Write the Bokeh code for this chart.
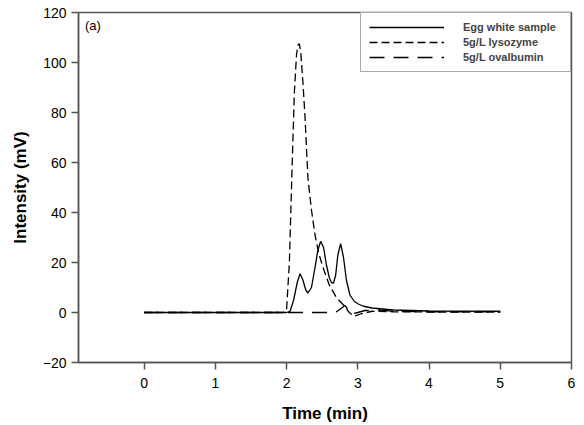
from bokeh.plotting import figure
from bokeh.models import FixedTicker, Legend, LegendItem, Label
from bokeh.embed import file_html
from bokeh.resources import INLINE

# Egg white sample (solid)
egg_t = [0, 1.0, 2.0, 2.05, 2.1, 2.15, 2.19, 2.23, 2.27, 2.3, 2.35, 2.4, 2.44, 2.48, 2.52, 2.56, 2.6, 2.63,
         2.66, 2.69, 2.72, 2.76, 2.8, 2.84, 2.89, 2.95, 3.0, 3.08, 3.2, 3.5, 4.0, 5.0]
egg_v = [0, 0, 0, 0.5, 5, 12, 15.5, 13, 9, 7.8, 10, 18, 25, 28.5, 26, 19, 14, 12,
         11.8, 15, 23, 27.5, 22, 13, 7, 4.5, 3.5, 2.5, 1.8, 1.0, 0.6, 0.5]

# 5g/L lysozyme (short dash)
lys_t = [0, 1.0, 1.95, 2.0, 2.04, 2.08, 2.11, 2.14, 2.16, 2.18, 2.2, 2.23, 2.26, 2.3, 2.35, 2.4, 2.45, 2.5,
         2.55, 2.6, 2.7, 2.8, 2.88, 2.95, 3.05, 3.2, 3.5, 4.0, 5.0]
lys_v = [0, 0, 0, 1, 20, 60, 88, 103, 107, 107.5, 104, 92, 78, 54, 41, 31, 24, 19,
         15, 11, 6, 3, 0, -1.5, -0.5, 0.5, 0.3, 0.2, 0.2]

# 5g/L ovalbumin (long dash)
ova_t = [0, 1, 2, 2.6, 2.7, 2.76, 2.82, 2.87, 2.92, 3.0, 3.1, 3.3, 3.5, 4.0, 4.5, 5.0]
ova_v = [0, 0, 0, 0, 0.3, 1.5, 2.8, 1.0, -0.5, 0, 0.8, 1.0, 0.5, 0.3, 0.3, 0.2]

x_ticks = [0, 1, 2, 3, 4, 5, 6]
y_ticks = [-20, 0, 20, 40, 60, 80, 100, 120]
series_names = ["Egg white sample", "5g/L lysozyme", "5g/L ovalbumin"]

FONT = "Liberation Sans"
AX = "#555555"

p = figure(width=584, height=425, output_backend="svg", toolbar_location=None,
           x_range=(-0.92, 6), y_range=(-20, 120),
           min_border_left=78, min_border_right=13, min_border_top=12, min_border_bottom=60)

r1 = p.line(egg_t, egg_v, line_color="black", line_width=1.3)
r2 = p.line(lys_t, lys_v, line_color="black", line_width=1.3, line_dash="8 4")
r3 = p.line(ova_t, ova_v, line_color="black", line_width=1.3, line_dash="15 9")

p.xgrid.visible = False
p.ygrid.visible = False
p.outline_line_color = AX
p.outline_line_width = 1.5
p.background_fill_color = "white"
p.border_fill_color = "white"

for ax in (p.xaxis[0], p.yaxis[0]):
    ax.axis_line_color = AX
    ax.axis_line_width = 1.5
    ax.major_tick_line_color = AX
    ax.major_tick_line_width = 1.5
    ax.major_tick_out = 7
    ax.major_tick_in = 0
    ax.minor_tick_line_color = None
    ax.major_label_text_font = FONT
    ax.major_label_text_font_size = "14px"
    ax.major_label_text_color = "black"
    ax.axis_label_text_font = FONT
    ax.axis_label_text_font_size = "17px"
    ax.axis_label_text_font_style = "bold"
    ax.axis_label_text_color = "black"

p.xaxis.ticker = FixedTicker(ticks=x_ticks)
p.yaxis.ticker = FixedTicker(ticks=y_ticks)
p.yaxis.major_label_overrides = {t: ("\u2212" + str(-t) if t < 0 else str(t)) for t in y_ticks}
p.xaxis.axis_label = "Time (min)"
p.yaxis.axis_label = "Intensity (mV)"
p.xaxis.major_label_standoff = 8
p.xaxis.axis_label_standoff = 13
p.yaxis.major_label_standoff = 5
p.yaxis.axis_label_standoff = 10

p.add_layout(Label(x=-0.83, y=115, text="(a)", text_font=FONT, text_font_size="13px",
                   text_baseline="middle", text_color="black"))

legend = Legend(items=[LegendItem(label=series_names[0], renderers=[r1]),
                       LegendItem(label=series_names[1], renderers=[r2]),
                       LegendItem(label=series_names[2], renderers=[r3])],
                location="top_right", margin=0, padding=8, spacing=3,
                glyph_width=75, glyph_height=12, label_standoff=19, label_width=99,
                label_text_font=FONT, label_text_font_size="11px", label_text_font_style="bold",
                label_height=12, border_line_color=AX, border_line_width=1.2,
                background_fill_alpha=1.0)
p.add_layout(legend)

open("out.html", "w").write(file_html(p, INLINE))
